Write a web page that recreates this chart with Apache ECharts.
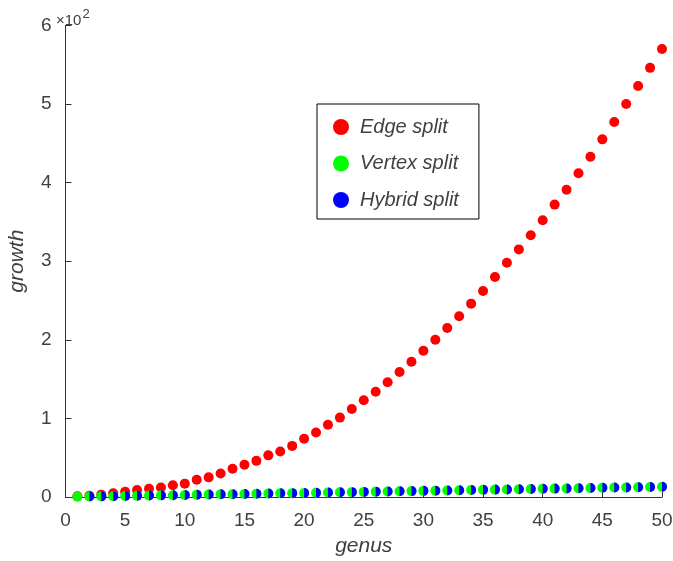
<!DOCTYPE html>
<html>
<head>
<meta charset="utf-8">
<script src="https://cdn.jsdelivr.net/npm/echarts@6/dist/echarts.min.js"></script>
<style>html,body{margin:0;padding:0;background:#fff}#c{width:673px;height:561px}</style>
</head>
<body>
<div id="c"></div>
<script>
var genus = [];
for (var i = 1; i <= 50; i++) genus.push(i);
var edgeSplit = [1, 1.5, 3, 4.7, 6.7, 8.9, 10.5, 12, 15, 17,
  22, 25, 30, 36, 41, 46, 53, 58, 65, 74,
  82, 92, 101, 112, 123, 134, 146, 159, 172, 186,
  200, 215, 230, 246, 262, 280, 298, 315, 333, 352,
  372, 391, 412, 433, 455, 477, 500, 523, 546, 570];
var vertexSplit = [0.3, 0.6, 0.8, 1.0, 1.3, 1.6, 1.8, 2.1, 2.3, 2.6,
  2.9, 3.1, 3.4, 3.6, 3.9, 4.2, 4.4, 4.7, 4.9, 5.2,
  5.5, 5.7, 6.0, 6.2, 6.5, 6.8, 7.0, 7.3, 7.5, 7.8,
  8.1, 8.3, 8.6, 8.8, 9.1, 9.4, 9.6, 9.9, 10.1, 10.4,
  10.7, 10.9, 11.2, 11.4, 11.7, 12.0, 12.2, 12.5, 12.7, 13.0];
var hybridGenus = genus.slice(1);
var hybridSplit = vertexSplit.slice(1);
var xTicks = [0, 5, 10, 15, 20, 25, 30, 35, 40, 45, 50];
var yTicks = [0, 1, 2, 3, 4, 5, 6];

function pairs(xs, ys) { return xs.map(function (x, i) { return [x, ys[i]]; }); }

var font = 'Liberation Sans, Arial, Helvetica, sans-serif';
var axisColor = '#333';
var textColor = '#404040';

var chart = echarts.init(document.getElementById('c'), null, {renderer: 'canvas'});
chart.setOption({
  backgroundColor: '#fff',
  animation: false,
  title: {
    text: '{a|×10}{b|2}', left: 56, top: 6, padding: 0,
    textStyle: {
      fontWeight: 'normal',
      rich: {
        a: {fontFamily: font, fontSize: 15, fontWeight: 'normal', color: textColor, padding: [7, 0, 0, 0]},
        b: {fontFamily: font, fontSize: 13, fontWeight: 'normal', color: textColor, padding: [0, 0, 6, 1]}
      }
    }
  },
  grid: {left: 65.5, right: 11, top: 25.4, bottom: 64, containLabel: false, outerBoundsMode: 'none'},
  legend: {
    orient: 'vertical',
    left: 317, top: 104,
    icon: 'circle',
    itemWidth: 16, itemHeight: 16, itemGap: 16.5,
    padding: [13, 20, 9, 16],
    borderColor: '#000', borderWidth: 1,
    backgroundColor: '#fff',
    textStyle: {fontFamily: font, fontSize: 20, fontStyle: 'italic', color: textColor, padding: [0, 0, 0, 6]},
    data: ['Edge split', 'Vertex split', 'Hybrid split']
  },
  xAxis: {
    type: 'value', min: 0, max: 50, interval: 5,
    name: 'genus', nameLocation: 'middle', nameGap: 39,
    nameTextStyle: {fontFamily: font, fontSize: 21, fontStyle: 'italic', color: textColor},
    axisLine: {show: true, lineStyle: {color: axisColor, width: 1}},
    axisTick: {show: true, inside: true, length: 6, lineStyle: {color: axisColor}},
    axisLabel: {fontFamily: font, fontSize: 19, color: textColor, margin: 14,
      formatter: function (v) { return xTicks.indexOf(v) >= 0 ? String(v) : ''; }},
    splitLine: {show: false}
  },
  yAxis: {
    type: 'value', min: 0, max: 600, interval: 100,
    name: 'growth', nameLocation: 'middle', nameGap: 38,
    nameTextStyle: {fontFamily: font, fontSize: 21, fontStyle: 'italic', color: textColor},
    axisLine: {show: true, lineStyle: {color: axisColor, width: 1}},
    axisTick: {show: true, inside: true, length: 6, lineStyle: {color: axisColor}},
    axisLabel: {fontFamily: font, fontSize: 19, color: textColor, margin: 14,
      formatter: function (v) { return String(yTicks[Math.round(v / 100)]); }},
    splitLine: {show: false}
  },
  series: [
    {name: 'Edge split', type: 'scatter', data: pairs(genus, edgeSplit),
      symbol: 'circle', symbolSize: 10, itemStyle: {color: '#ff0000', opacity: 1}, z: 2},
    {name: 'Vertex split', type: 'scatter', data: pairs(genus, vertexSplit),
      symbol: 'circle', symbolSize: 10, itemStyle: {color: '#00ff00', opacity: 1}, z: 3},
    {name: 'Hybrid split', type: 'scatter', data: pairs(hybridGenus, hybridSplit),
      symbol: 'path://M0,0 A1,1 0 0 1 0,2 Z', symbolKeepAspect: true, symbolSize: 10,
      symbolOffset: [2.5, 0],
      itemStyle: {color: '#0000ff', opacity: 1}, z: 4}
  ]
});
</script>
</body>
</html>
